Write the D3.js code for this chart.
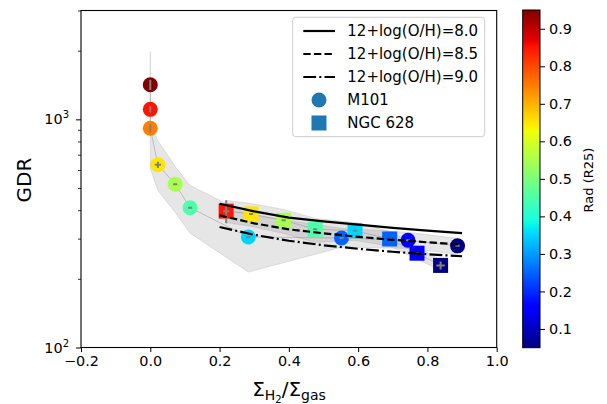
<!DOCTYPE html>
<html>
<head>
<meta charset="utf-8">
<script src="https://cdn.jsdelivr.net/npm/d3@7"></script>
<style>
  html, body { margin: 0; padding: 0; background: #fff; }
  svg { display: block; font-family: "DejaVu Sans", sans-serif; }
</style>
</head>
<body>
<svg id="chart" width="607" height="404"></svg>
<script>
// ---- data ----
// M101 radial bins: molecular fraction, gas-to-dust ratio, radius (R25)
const m101Frac    = [0, 0, 0, 0.022, 0.072, 0.115, 0.283, 0.552, 0.744, 0.887];
const m101GDR     = [1419, 1106, 914, 632, 520, 410, 305, 302, 295, 279];
const m101Rad     = [0.95, 0.85, 0.75, 0.65, 0.55, 0.45, 0.35, 0.25, 0.15, 0.05];
const m101FracErr = [0, 0, 0, 0.009, 0.006, 0.006, 0.006, 0.006, 0.006, 0.006];
const m101GDRErr  = [73, 34, 37, 20, 0, 0, 0, 0, 0, 0];
const m101Upper   = [1983, 1300, 950, 804, 621, 513, 383, 333, 320, 301];
const m101Lower   = [1000, 900, 609, 488, 391, 317, 214, 275, 272, 256];

// NGC 628 radial bins
const ngcFrac    = [0.219, 0.291, 0.385, 0.476, 0.591, 0.691, 0.770, 0.838];
const ngcGDR     = [396, 385, 361, 330, 325, 299, 259, 229];
const ngcRad     = [0.85, 0.65, 0.55, 0.45, 0.35, 0.25, 0.15, 0.05];
const ngcFracErr = [0.009, 0.006, 0.006, 0.006, 0.006, 0.006, 0.006, 0.012];
const ngcGDRErr  = [46, 0, 0, 0, 0, 0, 0, 9.4];
const ngcUpper   = [441, 428, 403, 368, 353, 323, 278, 241];
const ngcLower   = [353, 340, 316, 289, 295, 278, 244, 218];

// model curves for three metallicities
const modelFrac = [0.2, 0.3, 0.4, 0.5, 0.6, 0.7, 0.8, 0.9];
const model80   = [426.8, 395.0, 370.8, 357.3, 345.6, 334.6, 325.3, 317.5];
const model85   = [379.4, 350.1, 329.6, 316.6, 305.6, 296.5, 289.1, 282.5];
const model90   = [337.3, 311.8, 293.6, 280.6, 270.8, 262.8, 256.3, 251.2];
const modelLabels = ["12+log(O/H)=8.0", "12+log(O/H)=8.5", "12+log(O/H)=9.0"];

const xTicks  = [-0.2, 0.0, 0.2, 0.4, 0.6, 0.8, 1.0];
const yMajor  = [100, 1000];
const yMinor  = [200, 300, 400, 500, 600, 700, 800, 900, 2000, 3000];
const cbTicks = [0.1, 0.2, 0.3, 0.4, 0.5, 0.6, 0.7, 0.8, 0.9];

// ---- layout ----
const svg = d3.select("#chart");
const L = 81, R = 496.7, T = 10.5, B = 347.5;
const x = d3.scaleLinear().domain([-0.2, 1.0]).range([L, R]);
const y = d3.scaleLog().domain([100, 3000]).range([B, T]);

// jet colormap
const jetR = d3.scaleLinear().domain([0, 0.35, 0.66, 0.89, 1]).range([0, 0, 1, 1, 0.5]).clamp(true);
const jetG = d3.scaleLinear().domain([0, 0.125, 0.375, 0.64, 0.91, 1]).range([0, 0, 1, 1, 0, 0]).clamp(true);
const jetB = d3.scaleLinear().domain([0, 0.11, 0.34, 0.65, 1]).range([0.5, 1, 1, 0, 0]).clamp(true);
const jet = t => d3.rgb(jetR(t) * 255, jetG(t) * 255, jetB(t) * 255).toString();
const radNorm = d3.scaleLinear().domain([0.05, 0.95]).range([0, 1]);
const radColor = v => jet(radNorm(v));

const plot = svg.append("g");
plot.append("clipPath").attr("id", "clip")
  .append("rect").attr("x", L).attr("y", T).attr("width", R - L).attr("height", B - T);
const inner = plot.append("g").attr("clip-path", "url(#clip)");

// shaded uncertainty bands
function band(fr, up, lo) {
  const pts = fr.map((f, i) => [x(f), y(up[i])])
    .concat(fr.map((f, i) => [x(f), y(lo[i])]).reverse());
  return d3.line()(pts) + "Z";
}
inner.append("path").attr("d", band(m101Frac, m101Upper, m101Lower))
  .attr("fill", "#808080").attr("fill-opacity", 0.2)
  .attr("stroke", "#808080").attr("stroke-opacity", 0.2).attr("stroke-width", 1);
inner.append("path").attr("d", band(ngcFrac, ngcUpper, ngcLower))
  .attr("fill", "#808080").attr("fill-opacity", 0.2)
  .attr("stroke", "#808080").attr("stroke-opacity", 0.2).attr("stroke-width", 1);

// thin connecting lines
const conn = d3.line().x(d => x(d[0])).y(d => y(d[1]));
inner.append("path").attr("d", conn(m101Frac.map((f, i) => [f, m101GDR[i]])))
  .attr("fill", "none").attr("stroke", "#808080").attr("stroke-opacity", 0.4).attr("stroke-width", 1);
inner.append("path").attr("d", conn(ngcFrac.map((f, i) => [f, ngcGDR[i]])))
  .attr("fill", "none").attr("stroke", "#808080").attr("stroke-opacity", 0.4).attr("stroke-width", 1);

// markers
inner.selectAll("circle.m101").data(m101Frac).join("circle")
  .attr("class", "m101")
  .attr("cx", d => x(d)).attr("cy", (d, i) => y(m101GDR[i])).attr("r", 7.5)
  .attr("fill", (d, i) => radColor(m101Rad[i]));
const sq = 15;
inner.selectAll("rect.ngc").data(ngcFrac).join("rect")
  .attr("class", "ngc")
  .attr("x", d => x(d) - sq / 2).attr("y", (d, i) => y(ngcGDR[i]) - sq / 2)
  .attr("width", sq).attr("height", sq)
  .attr("fill", (d, i) => radColor(ngcRad[i]));

// error bars
function errBars(fr, gdr, fe, ge) {
  fr.forEach((f, i) => {
    if (fe[i] > 0) inner.append("line")
      .attr("x1", x(f - fe[i])).attr("x2", x(f + fe[i]))
      .attr("y1", y(gdr[i])).attr("y2", y(gdr[i]))
      .attr("stroke", "#808080").attr("stroke-width", 2);
    if (ge[i] > 0) inner.append("line")
      .attr("x1", x(f)).attr("x2", x(f))
      .attr("y1", y(gdr[i] - ge[i])).attr("y2", y(gdr[i] + ge[i]))
      .attr("stroke", "#808080").attr("stroke-width", 2);
  });
}
errBars(m101Frac, m101GDR, m101FracErr, m101GDRErr);
errBars(ngcFrac, ngcGDR, ngcFracErr, ngcGDRErr);

// model curves
const dashes = [null, "7.4,3.2", "12.8,3.2,2,3.2"];
[model80, model85, model90].forEach((vals, k) => {
  inner.append("path")
    .attr("d", conn(modelFrac.map((f, i) => [f, vals[i]])))
    .attr("fill", "none").attr("stroke", "#000").attr("stroke-width", 2.2)
    .attr("stroke-dasharray", dashes[k]);
});

// axes
const xAxis = svg.append("g").attr("transform", `translate(0,${B})`)
  .call(d3.axisBottom(x).tickValues(xTicks).tickFormat(d3.format(".1f")).tickSize(4.5).tickPadding(4));
xAxis.select(".domain").remove();
xAxis.selectAll("text").attr("font-size", 14.4).attr("font-family", "DejaVu Sans").attr("fill", "#000");
xAxis.selectAll("line").attr("stroke", "#000").attr("stroke-width", 1);

const yMinAxis = svg.append("g").attr("transform", `translate(${L},0)`)
  .call(d3.axisLeft(y).tickValues(yMinor).tickFormat("").tickSize(3));
yMinAxis.select(".domain").remove();
yMinAxis.selectAll("line").attr("stroke", "#000").attr("stroke-width", 0.8);

const yAxis = svg.append("g").attr("transform", `translate(${L},0)`)
  .call(d3.axisLeft(y).tickValues(yMajor).tickFormat("").tickSize(5));
yAxis.select(".domain").remove();
yAxis.selectAll("line").attr("stroke", "#000").attr("stroke-width", 1);
yMajor.forEach(v => {
  const t = svg.append("text").attr("x", L - 12).attr("y", y(v) + 5)
    .attr("text-anchor", "end").attr("font-size", 14.4).attr("fill", "#000");
  t.append("tspan").text("10");
  t.append("tspan").attr("dy", -6).attr("font-size", 10).text(Math.round(Math.log10(v)));
});

// frame
svg.append("rect").attr("x", L).attr("y", T).attr("width", R - L).attr("height", B - T)
  .attr("fill", "none").attr("stroke", "#000").attr("stroke-width", 1.1);

// axis titles
svg.append("text").attr("transform", `translate(31,180) rotate(-90)`)
  .attr("text-anchor", "middle").attr("font-size", 20).attr("fill", "#000").text("GDR");
const xl = svg.append("text").attr("x", 289).attr("y", 396)
  .attr("text-anchor", "middle").attr("font-size", 20).attr("fill", "#000");
xl.append("tspan").text("Σ");
xl.append("tspan").attr("font-size", 14).attr("dy", 4).text("H");
xl.append("tspan").attr("font-size", 10).attr("dy", 3).text("2");
xl.append("tspan").attr("dy", -7).text("/Σ");
xl.append("tspan").attr("font-size", 14).attr("dy", 4).text("gas");

// legend
const lg = svg.append("g");
lg.append("rect").attr("x", 292.7).attr("y", 17.3).attr("width", 192).attr("height", 119.4)
  .attr("rx", 3).attr("fill", "#fff").attr("fill-opacity", 0.8)
  .attr("stroke", "#cccccc").attr("stroke-width", 1);
const rowY = [31, 54, 77, 100, 123];
modelLabels.forEach((lab, k) => {
  lg.append("line").attr("x1", 303.3).attr("x2", 335).attr("y1", rowY[k]).attr("y2", rowY[k])
    .attr("stroke", "#000").attr("stroke-width", 2.2).attr("stroke-dasharray", dashes[k]);
  lg.append("text").attr("x", 347.3).attr("y", rowY[k]).attr("dy", "0.36em")
    .attr("font-size", 15).attr("fill", "#000").text(lab);
});
lg.append("circle").attr("cx", 319).attr("cy", rowY[3]).attr("r", 7.5).attr("fill", "#1f77b4");
lg.append("text").attr("x", 347.3).attr("y", rowY[3]).attr("dy", "0.36em")
  .attr("font-size", 15).attr("fill", "#000").text("M101");
lg.append("rect").attr("x", 319 - 7.5).attr("y", rowY[4] - 7.5).attr("width", 15).attr("height", 15)
  .attr("fill", "#1f77b4");
lg.append("text").attr("x", 347.3).attr("y", rowY[4]).attr("dy", "0.36em")
  .attr("font-size", 15).attr("fill", "#000").text("NGC 628");

// colorbar
const cbL = 522.7, cbR = 540, cbT = 10, cbB = 347.7;
const cy = d3.scaleLinear().domain([0.05, 0.95]).range([cbB, cbT]);
const grad = svg.append("defs").append("linearGradient").attr("id", "jetgrad")
  .attr("x1", 0).attr("y1", 1).attr("x2", 0).attr("y2", 0);
d3.range(0, 1.0001, 0.01).forEach(t => {
  grad.append("stop").attr("offset", t).attr("stop-color", jet(t));
});
svg.append("rect").attr("x", cbL).attr("y", cbT).attr("width", cbR - cbL).attr("height", cbB - cbT)
  .attr("fill", "url(#jetgrad)").attr("stroke", "#000").attr("stroke-width", 1);
const cbAxis = svg.append("g").attr("transform", `translate(${cbR},0)`)
  .call(d3.axisRight(cy).tickValues(cbTicks).tickFormat(d3.format(".1f")).tickSize(5).tickPadding(4));
cbAxis.select(".domain").remove();
cbAxis.selectAll("text").attr("font-size", 14.4).attr("font-family", "DejaVu Sans").attr("fill", "#000");
cbAxis.selectAll("line").attr("stroke", "#000").attr("stroke-width", 1);
svg.append("text").attr("transform", `translate(593,180) rotate(-90)`)
  .attr("text-anchor", "middle").attr("font-size", 13).attr("fill", "#000").text("Rad (R25)");
</script>
</body>
</html>
